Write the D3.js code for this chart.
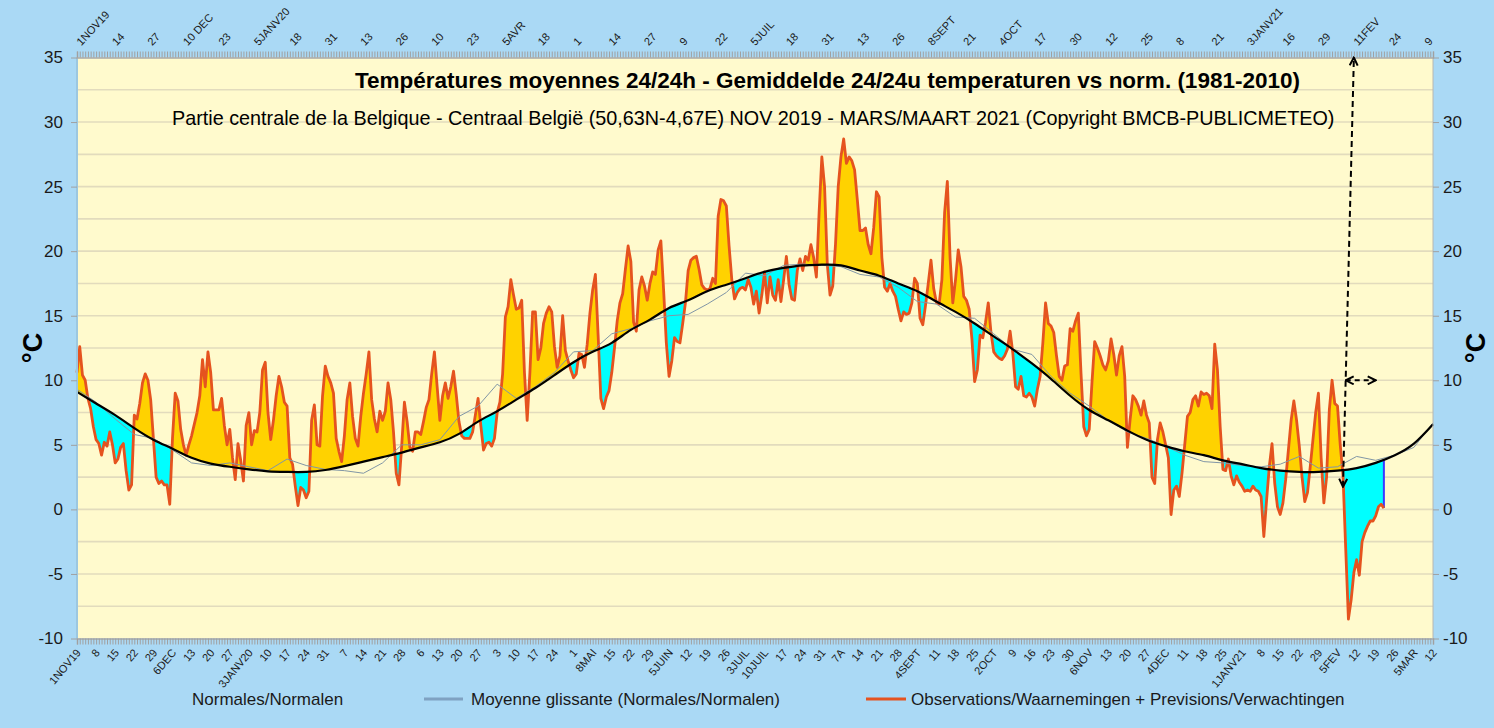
<!DOCTYPE html>
<html>
<head>
<meta charset="utf-8">
<script src="https://cdn.jsdelivr.net/npm/d3@7"></script>
<style>
  body { margin: 0; background: #aad9f5; }
  svg { display: block; font-family: "Liberation Sans", Arial, sans-serif; }
</style>
</head>
<body>
<div id="chart"></div>
<script>
// Observations journalières depuis le 1er novembre 2019 (°C)
const obsValues = [
  10.6, 12.6, 10.4, 10.0, 8.6, 7.8, 6.4, 5.4, 5.1, 4.2,
  5.2, 4.9, 6.0, 5.0, 3.6, 3.9, 4.8, 5.1, 3.0, 1.5,
  1.9, 7.3, 7.0, 8.2, 9.8, 10.5, 10.0, 8.5, 5.5, 2.5,
  2.0, 2.2, 1.9, 1.9, 0.4, 5.5, 9.0, 8.4, 6.2, 5.0,
  4.2, 5.0, 5.7, 6.6, 7.5, 8.8, 11.6, 9.5, 12.2, 10.6,
  7.7, 7.7, 7.7, 8.6, 6.5, 5.0, 6.2, 4.0, 2.3, 5.1,
  3.8, 2.2, 6.5, 7.5, 5.0, 6.1, 6.0, 7.5, 10.8, 11.4,
  7.5, 5.4, 6.9, 8.8, 10.3, 9.5, 8.3, 8.0, 4.0, 3.5,
  1.8, 0.3, 1.7, 1.5, 0.9, 1.4, 6.9, 8.1, 5.0, 4.9,
  8.8, 11.1, 10.3, 9.8, 9.0, 5.5, 4.5, 3.7, 5.7, 8.5,
  9.8, 7.2, 5.5, 4.9, 7.2, 9.0, 10.5, 12.2, 8.5, 7.0,
  6.0, 7.6, 6.9, 7.6, 9.8, 8.5, 6.0, 2.8, 1.9, 4.9,
  8.3, 6.8, 4.8, 4.5, 6.0, 6.0, 5.8, 6.8, 7.9, 8.5,
  10.5, 12.2, 9.5, 6.9, 8.8, 9.8, 8.6, 9.5, 10.7, 8.9,
  6.8, 5.7, 5.5, 5.5, 5.5, 6.0, 7.3, 8.6, 6.5, 4.6,
  5.1, 5.2, 4.9, 5.5, 7.5, 8.3, 10.5, 14.9, 15.7, 17.8,
  16.6, 15.5, 15.6, 16.2, 10.6, 6.9, 10.6, 15.3, 15.3, 11.6,
  12.5, 14.4, 15.2, 15.7, 15.3, 12.6, 11.0, 11.9, 15.0, 12.3,
  11.5, 10.8, 10.2, 10.5, 12.1, 12.0, 11.0, 12.8, 15.2, 17.0,
  18.2, 13.5, 8.6, 7.8, 8.7, 9.2, 10.6, 12.5, 14.6, 16.0,
  16.7, 18.6, 20.4, 19.2, 14.5, 13.8, 17.0, 18.0, 17.3, 16.2,
  17.5, 18.4, 18.2, 20.1, 20.8, 17.0, 12.9, 10.3, 11.5, 13.3,
  13.0, 12.9, 14.4, 16.0, 18.5, 19.3, 19.5, 19.6, 18.6, 17.4,
  17.1, 17.0, 17.1, 17.9, 17.5, 22.7, 24.0, 23.9, 23.5, 20.4,
  17.8, 16.3, 16.8, 17.1, 17.2, 17.0, 17.8, 17.2, 15.9, 16.9,
  15.2, 16.6, 18.4, 16.0, 18.0, 16.6, 16.2, 17.8, 16.1, 17.8,
  19.6, 17.4, 16.3, 16.2, 18.5, 19.4, 18.5, 19.6, 19.3, 20.5,
  19.5, 18.0, 23.0, 27.3, 25.0, 19.0, 16.6, 17.3, 20.5, 25.0,
  27.3, 28.7, 26.8, 27.3, 27.0, 26.3, 24.0, 21.6, 21.6, 21.8,
  20.5, 19.8, 21.8, 24.6, 24.2, 19.5, 17.2, 16.9, 17.5, 16.9,
  16.5, 15.5, 14.6, 15.3, 15.1, 15.2, 16.0, 17.9, 17.5, 14.8,
  14.3, 15.8, 17.5, 19.3, 17.1, 16.0, 15.9, 17.8, 23.0, 25.4,
  19.5, 16.0, 17.8, 20.1, 18.8, 16.5, 16.2, 15.5, 13.2, 9.9,
  10.8, 13.5, 13.3, 14.5, 16.0, 13.7, 12.2, 11.9, 11.7, 11.6,
  11.9, 12.4, 13.8, 12.1, 9.5, 9.3, 10.3, 8.8, 8.7, 9.0,
  8.7, 8.0, 9.3, 10.3, 12.9, 16.0, 14.4, 14.2, 13.7, 11.9,
  10.3, 10.0, 11.1, 11.2, 14.0, 13.8, 14.6, 15.2, 10.5, 6.4,
  5.7, 6.2, 9.8, 13.0, 12.5, 11.9, 11.2, 10.8, 11.5, 13.2,
  12.0, 10.4, 11.9, 12.6, 10.3, 4.8, 7.0, 8.8, 8.5, 8.0,
  7.3, 8.4, 7.3, 6.7, 2.5, 2.0, 5.4, 6.7, 6.0, 5.0,
  4.0, -0.4, 1.5, 1.8, 1.0, 2.8, 5.0, 7.2, 7.5, 8.5,
  8.8, 8.0, 9.1, 8.9, 9.0, 8.8, 7.8, 12.8, 10.8, 6.4,
  3.1, 3.0, 3.9, 2.6, 1.9, 2.6, 2.1, 1.8, 1.4, 1.5,
  1.4, 1.8, 1.5, 1.4, 1.0, -2.1, 0.7, 3.3, 5.1, 2.0,
  0.2, -0.4, 0.5, 2.3, 4.6, 6.9, 8.4, 6.9, 4.9, 2.5,
  0.6, 1.3, 3.3, 5.4, 7.5, 9.0, 4.0, 0.5, 2.5, 7.7,
  10.0, 8.2, 8.0, 5.0, 2.7, -3.0, -8.5, -7.0, -4.9, -3.9,
  -5.1, -2.5, -1.8, -1.3, -0.9, -0.9, -0.5, 0.2, 0.4, 0.1
];

// Normales (1981-2010), une valeur par semaine
const normalValues = [
  9.1, 8.2, 7.3, 6.3, 5.4, 4.7, 4.0, 3.55, 3.3, 3.1,
  2.95, 2.9, 2.9, 3.05, 3.35, 3.7, 4.05, 4.4, 4.8, 5.2,
  5.85, 6.8, 7.6, 8.5, 9.4, 10.4, 11.4, 12.2, 12.9, 13.9,
  14.7, 15.6, 16.2, 16.9, 17.4, 17.9, 18.4, 18.7, 18.9, 18.95,
  18.9, 18.5, 18.1, 17.5, 16.9, 16.1, 15.3, 14.4, 13.4, 12.4,
  11.3, 10.1, 8.8, 7.7, 6.9, 6.1, 5.4, 4.9, 4.5, 4.2,
  3.8, 3.5, 3.2, 3.0, 2.9, 2.9, 3.0, 3.2, 3.6, 4.2,
  5.1, 6.6
];

// Moyenne glissante des normales, mêmes semaines
const glissValues = [
  9.3, 8.3, 7.0, 5.8, 5.5, 4.6, 3.6, 3.4, 3.6, 3.3,
  3.0, 3.9, 3.4, 3.1, 3.0, 2.8, 3.6, 5.0, 5.0, 5.4,
  7.2, 8.0, 9.7, 8.6, 9.5, 10.6, 12.2, 12.3, 13.6, 14.0,
  14.6, 15.0, 15.1, 15.9, 16.8, 18.3, 18.1, 18.9, 19.0, 18.9,
  18.8, 18.2, 18.0, 17.2, 16.1, 15.9, 14.9, 14.8, 13.6, 12.4,
  12.0, 10.3, 9.0, 8.0, 6.9, 6.0, 5.5, 4.9, 4.2, 3.7,
  3.6, 3.4, 3.3, 3.5, 4.1, 3.2, 3.3, 4.1, 3.8, 4.2,
  4.8, 6.7
];

// Étiquettes de l'axe du bas (tous les 7 jours) et du haut (tous les 13 jours)
const bottomLabels = [
  "1NOV19", "8", "15", "22", "29", "6DEC", "13", "20", "27", "3JANV20",
  "10", "17", "24", "31", "7", "14", "21", "28", "6", "13",
  "20", "27", "3", "10", "17", "24", "1", "8MAI", "15", "22",
  "29", "5JUIN", "12", "19", "26", "3JUIL", "10JUIL", "17", "24", "31",
  "7A", "14", "21", "28", "4SEPT", "11", "18", "25", "2OCT", "9",
  "16", "23", "30", "6NOV", "13", "20", "27", "4DEC", "11", "18",
  "25", "1JANV21", "8", "15", "22", "29", "5FEV", "12", "19", "26",
  "5MAR", "12"
];
const topLabels = [
  "1NOV19", "14", "27", "10 DEC", "23", "5JANV20", "18", "31", "13", "26",
  "10", "23", "5AVR", "18", "1", "14", "27", "9", "22", "5JUIL",
  "18", "31", "13", "26", "8SEPT", "21", "4OCT", "17", "30", "12",
  "25", "8", "21", "3JANV21", "16", "29", "11FEV", "24", "9"
];
const yTicks = [-10, -5, 0, 5, 10, 15, 20, 25, 30, 35];
const gridValues = [-7.5, -5, -2.5, 0, 2.5, 5, 7.5, 10, 12.5, 15, 17.5, 20, 22.5, 25, 27.5, 30, 32.5];

const width = 1494;
const height = 728;
const start = new Date(Date.UTC(2019, 10, 1));
const end = new Date(Date.UTC(2021, 2, 12));

const svg = d3.select("#chart").append("svg")
  .attr("width", width)
  .attr("height", height);

svg.append("rect").attr("width", width).attr("height", height).attr("fill", "#aad9f5");

// Échelles
const x = d3.scaleUtc().domain([start, end]).range([77, 1433]);
const y = d3.scaleLinear().domain([-10, 35]).range([638.5, 57.5]);

const day = (i) => d3.utcDay.offset(start, i);
const obs = obsValues.map((v, i) => ({ date: day(i), v }));
const normals = normalValues.map((v, i) => ({ date: day(i * 7), v }));
const gliss = glissValues.map((v, i) => ({ date: day(i * 7), v }));

// Zone du graphique
svg.append("rect")
  .attr("x", x.range()[0]).attr("y", y(35))
  .attr("width", x.range()[1] - x.range()[0])
  .attr("height", y(-10) - y(35))
  .attr("fill", "#fffacd");

svg.append("g")
  .selectAll("line")
  .data(gridValues)
  .join("line")
  .attr("x1", x.range()[0]).attr("x2", x.range()[1])
  .attr("y1", (d) => y(d)).attr("y2", (d) => y(d))
  .attr("stroke", "#e2dbbd")
  .attr("stroke-width", 1.6);

// Clips pour remplir entre observations et normales
const defs = svg.append("defs");
defs.append("clipPath").attr("id", "belowObs")
  .append("path").datum(obs)
  .attr("d", d3.area().x((d) => x(d.date)).y0(y(-10)).y1((d) => y(d.v)));
defs.append("clipPath").attr("id", "aboveObs")
  .append("path").datum(obs)
  .attr("d", d3.area().x((d) => x(d.date)).y0(y(35)).y1((d) => y(d.v)));
defs.append("clipPath").attr("id", "belowNormal")
  .append("path").datum(normals)
  .attr("d", d3.area().curve(d3.curveNatural).x((d) => x(d.date)).y0(y(-10)).y1((d) => y(d.v)));

// Au-dessus de la normale (jaune)
svg.append("path")
  .datum(normals)
  .attr("clip-path", "url(#belowObs)")
  .attr("fill", "#ffd200")
  .attr("d", d3.area().curve(d3.curveNatural).x((d) => x(d.date)).y0(y(35)).y1((d) => y(d.v)));

// En dessous de la normale (cyan)
svg.append("path")
  .datum(normals)
  .attr("clip-path", "url(#aboveObs)")
  .attr("fill", "#00ffff")
  .attr("d", d3.area().curve(d3.curveNatural).x((d) => x(d.date)).y0(y(-10)).y1((d) => y(d.v)));

// Bord de la dernière valeur
const last = obs[obs.length - 1];
svg.append("line")
  .attr("clip-path", "url(#belowNormal)")
  .attr("x1", x(last.date)).attr("x2", x(last.date))
  .attr("y1", y(last.v)).attr("y2", y(35))
  .attr("stroke", "#3a3aff")
  .attr("stroke-width", 2);

// Ligne des observations
svg.append("path")
  .datum(obs)
  .attr("fill", "none")
  .attr("stroke", "#e5531f")
  .attr("stroke-width", 2.8)
  .attr("stroke-linejoin", "round")
  .attr("d", d3.line().x((d) => x(d.date)).y((d) => y(d.v)));

// Moyenne glissante
svg.append("path")
  .datum(gliss)
  .attr("fill", "none")
  .attr("stroke", "#8196a6")
  .attr("stroke-width", 1)
  .attr("d", d3.line().x((d) => x(d.date)).y((d) => y(d.v)));

// Normales
svg.append("path")
  .datum(normals)
  .attr("fill", "none")
  .attr("stroke", "#000")
  .attr("stroke-width", 2.2)
  .attr("d", d3.line().curve(d3.curveNatural).x((d) => x(d.date)).y((d) => y(d.v)));

// Bords gauche et droit
svg.append("line")
  .attr("x1", x.range()[0]).attr("x2", x.range()[0])
  .attr("y1", y(35)).attr("y2", y(-10))
  .attr("stroke", "#9cc7e0").attr("stroke-width", 2);
svg.append("line")
  .attr("x1", x.range()[1]).attr("x2", x.range()[1])
  .attr("y1", y(35)).attr("y2", y(-10))
  .attr("stroke", "#b8b8b0").attr("stroke-width", 1);

// Petites graduations journalières (bande grise en haut et en bas)
const allDays = d3.utcDay.range(start, d3.utcDay.offset(end, 1));
svg.append("g")
  .attr("transform", `translate(0,${y(-10)})`)
  .call(d3.axisBottom(x).tickValues(allDays).tickSize(6).tickFormat(""))
  .call((g) => g.select(".domain").attr("stroke", "#a8a8a8").attr("stroke-width", 1.5))
  .call((g) => g.selectAll(".tick line").attr("stroke", "#a0a0a0"));
svg.append("g")
  .attr("transform", `translate(0,${y(35)})`)
  .call(d3.axisTop(x).tickValues(allDays).tickSize(6).tickFormat(""))
  .call((g) => g.select(".domain").attr("stroke", "#a8a8a8").attr("stroke-width", 1.5))
  .call((g) => g.selectAll(".tick line").attr("stroke", "#a0a0a0"));

// Axe du bas avec étiquettes inclinées
const bottomDates = bottomLabels.map((d, i) => day(i * 7));
svg.append("g")
  .attr("transform", `translate(0,${y(-10)})`)
  .call(d3.axisBottom(x).tickValues(bottomDates).tickSize(0).tickFormat((d, i) => bottomLabels[i]))
  .call((g) => g.select(".domain").remove())
  .selectAll("text")
  .attr("x", 0).attr("y", 0).attr("dy", "0.35em")
  .attr("transform", "translate(1,12) rotate(-50)")
  .style("text-anchor", "end")
  .style("font-size", "11px")
  .style("font-family", "Liberation Sans, Arial, sans-serif")
  .style("fill", "#1a1a1a");

// Axe du haut
const topDates = topLabels.map((d, i) => day(i * 13));
svg.append("g")
  .attr("transform", `translate(0,${y(35)})`)
  .call(d3.axisTop(x).tickValues(topDates).tickSize(0).tickFormat((d, i) => topLabels[i]))
  .call((g) => g.select(".domain").remove())
  .selectAll("text")
  .attr("x", 0).attr("y", 0).attr("dy", "0.35em")
  .attr("transform", "translate(1,-14) rotate(-47)")
  .style("text-anchor", "start")
  .style("font-size", "11px")
  .style("font-family", "Liberation Sans, Arial, sans-serif")
  .style("fill", "#1a1a1a");

// Axes des Y
svg.append("g")
  .attr("transform", `translate(${x.range()[0]},0)`)
  .call(d3.axisLeft(y).tickValues(yTicks).tickSize(6).tickPadding(8).tickFormat((d) => String(d)))
  .call((g) => g.select(".domain").remove())
  .call((g) => g.selectAll(".tick line").attr("stroke", "#a0a0a0"))
  .selectAll("text")
  .style("font-size", "17px")
  .style("font-family", "Liberation Sans, Arial, sans-serif")
  .style("fill", "#1a1a1a");

svg.append("g")
  .attr("transform", `translate(${x.range()[1]},0)`)
  .call(d3.axisRight(y).tickValues(yTicks).tickSize(6).tickPadding(4).tickFormat((d) => String(d)))
  .call((g) => g.select(".domain").remove())
  .call((g) => g.selectAll(".tick line").attr("stroke", "#a0a0a0"))
  .selectAll("text")
  .style("font-size", "17px")
  .style("font-family", "Liberation Sans, Arial, sans-serif")
  .style("fill", "#1a1a1a");

// °C
svg.append("text")
  .attr("transform", `translate(42,${y(12.5)}) rotate(-90)`)
  .attr("text-anchor", "middle")
  .style("font-size", "27px").style("font-weight", "bold")
  .text("°C");
svg.append("text")
  .attr("transform", `translate(1485,${y(12.5)}) rotate(-90)`)
  .attr("text-anchor", "middle")
  .style("font-size", "27px").style("font-weight", "bold")
  .text("°C");

// Titres
svg.append("text")
  .attr("x", 355).attr("y", 88)
  .style("font-size", "22.5px").style("font-weight", "bold")
  .text("Températures moyennes 24/24h - Gemiddelde 24/24u temperaturen vs norm. (1981-2010)");
svg.append("text")
  .attr("x", 172).attr("y", 125)
  .style("font-size", "19.8px")
  .text("Partie centrale de la Belgique - Centraal België (50,63N-4,67E) NOV 2019 - MARS/MAART 2021 (Copyright BMCB-PUBLICMETEO)");

// Flèches en pointillés
const marker = defs.append("marker")
  .attr("id", "arrow")
  .attr("viewBox", "0 0 10 10")
  .attr("refX", 9).attr("refY", 5)
  .attr("markerWidth", 5).attr("markerHeight", 5)
  .attr("orient", "auto-start-reverse");
marker.append("path")
  .attr("d", "M1,1 L9,5 L1,9")
  .attr("fill", "none").attr("stroke", "#000").attr("stroke-width", 2);

svg.append("line")
  .attr("x1", x(day(464.5))).attr("y1", y(1.75))
  .attr("x2", x(day(468.5))).attr("y2", y(35))
  .attr("stroke", "#000").attr("stroke-width", 2)
  .attr("stroke-dasharray", "6,4")
  .attr("marker-start", "url(#arrow)")
  .attr("marker-end", "url(#arrow)");

svg.append("line")
  .attr("x1", x(day(465))).attr("y1", y(10))
  .attr("x2", x(day(476.5))).attr("y2", y(10))
  .attr("stroke", "#000").attr("stroke-width", 2)
  .attr("stroke-dasharray", "5,4")
  .attr("marker-start", "url(#arrow)")
  .attr("marker-end", "url(#arrow)");

// Légende
const legend = svg.append("g").style("font-size", "17px").style("fill", "#1a1a1a");
legend.append("text").attr("x", 192).attr("y", 705).text("Normales/Normalen");
legend.append("line").attr("x1", 424).attr("x2", 463).attr("y1", 699).attr("y2", 699)
  .attr("stroke", "#7fa2c2").attr("stroke-width", 3);
legend.append("text").attr("x", 471).attr("y", 705).text("Moyenne glissante (Normales/Normalen)");
legend.append("line").attr("x1", 866).attr("x2", 906).attr("y1", 699).attr("y2", 699)
  .attr("stroke", "#e5531f").attr("stroke-width", 3);
legend.append("text").attr("x", 911).attr("y", 705).text("Observations/Waarnemingen + Previsions/Verwachtingen");
</script>
</body>
</html>
